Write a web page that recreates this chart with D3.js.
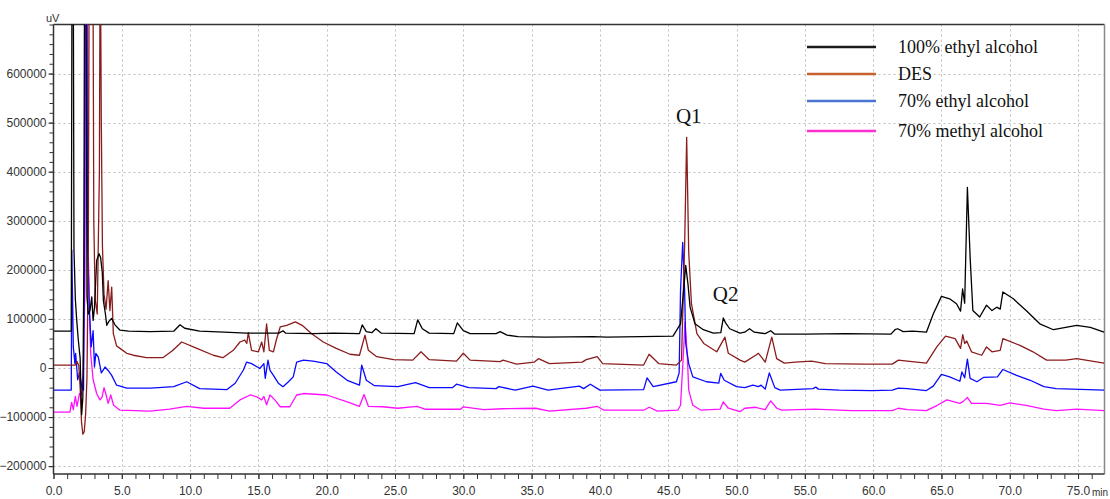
<!DOCTYPE html>
<html><head><meta charset="utf-8">
<script src="https://cdn.jsdelivr.net/npm/d3@7"></script>
<style>
html,body{margin:0;padding:0;background:#fff;}
svg{display:block;}
.tick text{font-family:"Liberation Sans Narrow","Arial Narrow","Liberation Sans",sans-serif;}
</style></head>
<body>
<svg id="chart" width="1110" height="499"></svg>
<script>
// ---------------- DATA ----------------
const seriesNames = ["100% ethyl alcohol", "DES", "70% ethyl alcohol", "70% methyl alcohol"];
const xTickLabels = [0,5,10,15,20,25,30,35,40,45,50,55,60,65,70,75];
const yTickLabels = [-200000,-100000,0,100000,200000,300000,400000,500000,600000];
const peakLabels = ["Q1","Q2"];
const peakTimes = [46.5, 49.2];

// [time (min), signal (uV)]
const ethanol100 = [[0,75000],[1.3,75000],[1.36,900000],[1.44,900000],[1.5,240000],[1.6,140000],[1.7,97000],[1.82,56000],[1.95,20000],[2.06,-95000],[2.15,-60000],[2.22,200000],[2.28,900000],[2.38,900000],[2.45,145000],[2.55,110000],[2.67,117000],[2.8,145000],[2.9,97000],[3.0,123000],[3.16,219000],[3.33,233000],[3.45,225000],[3.57,195000],[3.65,138000],[3.8,110000],[3.9,87000],[4.05,95000],[4.26,101000],[4.5,88000],[4.87,77000],[5.5,75000],[7.07,74000],[8.8,75000],[9.26,88000],[9.6,81000],[10.7,75000],[12.5,73000],[14.1,71000],[16.5,71000],[16.8,76000],[17.0,71000],[19.0,70000],[20.5,71000],[22.4,70000],[22.6,88000],[22.9,74000],[23.3,72000],[23.6,80000],[24.0,71000],[26.4,70000],[26.66,98000],[27.0,80000],[27.5,71000],[29.3,70000],[29.56,92000],[30.0,76000],[30.5,70000],[32.4,70000],[32.7,74000],[33.2,67000],[34.0,64000],[36,63000],[39.5,64000],[40.5,63000],[43,64000],[45.35,65000],[45.9,90000],[46.1,150000],[46.28,209000],[46.45,170000],[46.6,124000],[46.96,90000],[47.57,78000],[48.3,71000],[48.85,72000],[49.03,102000],[49.2,92000],[49.5,80000],[50.25,71000],[50.6,73000],[50.95,80000],[51.3,73000],[52.1,70000],[52.5,76000],[52.8,69000],[55,69000],[58,70000],[61.3,69000],[61.6,78000],[61.8,80000],[62.2,74000],[62.9,75000],[63.9,73000],[64.4,110000],[65.0,146000],[65.6,141000],[66.1,131000],[66.4,116000],[66.55,161000],[66.7,132000],[66.9,368000],[67.1,226000],[67.3,117000],[67.8,104000],[68.3,128000],[68.7,117000],[69.05,124000],[69.3,120000],[69.5,155000],[70.26,141000],[71.2,117000],[72.2,90000],[73.2,78000],[74.9,87000],[75.9,83000],[76.9,73000]];

const des = [[0,6000],[1.6,6000],[1.72,13000],[1.85,5000],[1.95,-40000],[2.05,-110000],[2.15,-135000],[2.25,-130000],[2.35,-95000],[2.45,-20000],[2.55,250000],[2.62,900000],[2.88,900000],[2.95,300000],[3.05,140000],[3.2,110000],[3.36,400000],[3.42,900000],[3.5,500000],[3.58,250000],[3.7,150000],[3.85,120000],[4.0,178000],[4.13,117000],[4.26,165000],[4.38,70000],[4.62,45000],[4.87,40000],[5.36,30000],[5.84,26000],[6.8,21000],[8.0,21000],[8.7,35000],[9.38,53000],[10.5,40000],[11.7,26000],[12.4,21000],[13.16,36000],[13.65,53000],[14.0,57000],[14.15,50000],[14.26,72000],[14.5,36000],[15.0,33000],[15.24,53000],[15.4,33000],[15.6,90000],[15.8,36000],[16.1,33000],[16.3,56000],[16.6,84000],[17.07,87000],[17.7,94000],[18.2,87000],[18.9,70000],[19.75,53000],[20.7,40000],[21.7,28000],[22.4,26000],[22.8,67000],[23.05,36000],[23.66,23000],[24.9,17000],[26.3,16000],[26.9,33000],[27.5,17000],[29.5,14000],[30.0,30000],[30.5,16000],[32.7,13000],[32.9,16000],[33.9,8000],[35.2,12000],[35.5,19000],[36.3,9000],[38.7,12000],[39.0,17000],[39.8,23000],[40.2,9000],[43.2,6000],[43.6,28000],[44.3,9000],[45.6,6000],[45.97,16000],[46.2,250000],[46.35,470000],[46.5,236000],[46.7,131000],[47.1,70000],[47.6,50000],[48.55,33000],[49.15,63000],[49.4,30000],[50.26,16000],[50.6,12000],[51.4,26000],[51.6,30000],[51.8,23000],[52.1,12000],[52.58,63000],[52.94,19000],[53.5,10000],[54.3,12000],[55.5,14000],[56.5,9000],[59.3,8000],[61.4,8000],[61.85,16000],[62.5,14000],[63.9,10000],[64.66,43000],[65.3,65000],[66.0,60000],[66.4,40000],[66.56,68000],[66.7,50000],[66.85,55000],[67.2,33000],[67.95,26000],[68.3,43000],[68.7,33000],[69.3,36000],[69.5,60000],[70.75,46000],[71.7,33000],[72.7,16000],[74.1,16000],[74.9,19000],[76.9,10000]];

const ethanol70 = [[0,-45000],[1.3,-45000],[1.34,240000],[1.45,43000],[1.57,9000],[1.62,30000],[1.77,-24000],[1.9,-10000],[2.07,-38000],[2.2,-45000],[2.27,300000],[2.32,900000],[2.42,900000],[2.5,250000],[2.63,117000],[2.76,43000],[2.9,76000],[3.0,2000],[3.1,30000],[3.28,22000],[3.5,-10000],[3.65,-4000],[3.77,2000],[4.0,-5000],[4.13,-10000],[4.26,-15000],[4.62,-35000],[5.36,-41000],[7.1,-41000],[8.8,-38000],[9.75,-28000],[10.7,-42000],[12.7,-44000],[13.3,-31000],[13.9,-4000],[14.14,12000],[14.5,9000],[15.1,-1000],[15.4,9000],[15.5,-21000],[15.7,16000],[15.85,-5000],[16.1,-15000],[16.46,-31000],[16.8,-38000],[17.2,-28000],[17.55,-18000],[17.8,12000],[18.3,16000],[19.0,14000],[20.0,9000],[20.7,-8000],[21.5,-25000],[22.4,-35000],[22.56,6000],[22.9,-25000],[23.5,-36000],[25.2,-38000],[26.5,-30000],[27.5,-40000],[29.2,-40000],[29.5,-33000],[30.4,-40000],[32.4,-42000],[32.6,-38000],[33.8,-45000],[35.1,-37000],[36.2,-45000],[38.5,-37000],[38.8,-42000],[39.3,-33000],[40.0,-45000],[43.2,-44000],[43.45,-20000],[43.9,-38000],[45.6,-28000],[45.8,-10000],[45.9,158000],[46.06,256000],[46.2,158000],[46.28,50000],[46.5,9000],[46.8,-18000],[47.8,-28000],[48.7,-31000],[48.84,-11000],[49.1,-25000],[50.0,-38000],[50.6,-40000],[51.2,-35000],[51.6,-38000],[51.8,-35000],[52.1,-43000],[52.4,-10000],[52.8,-40000],[53.2,-45000],[55.6,-42000],[55.8,-39000],[56,-43000],[57.5,-45000],[59.9,-46000],[61.4,-45000],[61.85,-41000],[62.5,-42000],[63.9,-46000],[64.4,-37000],[65.0,-13000],[65.6,-18000],[66.35,-27000],[66.5,-8000],[66.7,-20000],[66.9,18000],[67.1,-21000],[67.6,-28000],[68.1,-19000],[69.1,-18000],[69.5,-3000],[70.5,-15000],[71.5,-25000],[72.5,-38000],[73.4,-42000],[76.9,-45000]];

const methanol70 = [[0,-90000],[1.2,-90000],[1.33,-70000],[1.45,-85000],[1.6,-58000],[1.72,-78000],[1.9,-52000],[2.05,-55000],[2.18,-11000],[2.3,165000],[2.36,900000],[2.46,900000],[2.55,233000],[2.62,131000],[2.72,30000],[2.9,-24000],[3.16,-52000],[3.4,-65000],[3.55,-60000],[3.7,-40000],[3.85,-55000],[4.0,-72000],[4.19,-55000],[4.4,-76000],[4.87,-86000],[7.07,-88000],[8.5,-84000],[9.75,-78000],[11,-82000],[12.9,-82000],[13.65,-65000],[14.4,-55000],[14.9,-59000],[15.24,-65000],[15.4,-58000],[15.6,-75000],[15.85,-55000],[16.2,-65000],[16.6,-79000],[17.3,-79000],[17.8,-55000],[18.3,-52000],[20.0,-55000],[21.5,-69000],[22.4,-78000],[22.73,-54000],[23.05,-78000],[24.1,-79000],[25.2,-82000],[26.6,-78000],[27.2,-84000],[29.8,-84000],[30.0,-79000],[31.5,-85000],[32.9,-83000],[35.3,-82000],[36.3,-88000],[39.0,-82000],[39.8,-78000],[40.3,-86000],[43.2,-86000],[43.6,-80000],[44.2,-88000],[45.7,-86000],[45.9,-76000],[46.1,23000],[46.23,94000],[46.4,23000],[46.5,-45000],[46.8,-76000],[47.4,-86000],[48.8,-84000],[49.03,-69000],[49.4,-82000],[50.25,-89000],[50.6,-82000],[51.4,-80000],[52.1,-85000],[52.5,-67000],[52.95,-82000],[53.3,-86000],[55.7,-84000],[58.4,-87000],[61.4,-87000],[61.85,-82000],[62.5,-85000],[63.9,-87000],[64.7,-76000],[65.4,-65000],[66.35,-72000],[66.6,-68000],[66.9,-60000],[67.2,-72000],[68.3,-72000],[69.3,-76000],[70.0,-71000],[71.2,-76000],[72.5,-84000],[73.4,-87000],[74.9,-84000],[76.9,-87000]];

const traceColors = ["#000000", "#8b1c1c", "#0a0aff", "#ff10ff"];
const legendColors = ["#1a1a1a", "#c4612c", "#4a74d0", "#ff30d0"];

// ---------------- LAYOUT ----------------
const L = 53.5, R = 1104.5, T = 24.5, B = 474;
const svg = d3.select("#chart");
const x = d3.scaleLinear().domain([0, 76.9]).range([L, 1104]);
const y = d3.scaleLinear().domain([-216000, 700000]).range([B, T]);

svg.append("defs").append("clipPath").attr("id","clip")
  .append("rect").attr("x",L).attr("y",T).attr("width",R-L).attr("height",B-T);

// grid
const grid = svg.append("g").attr("stroke","#bdbdbd").attr("stroke-width",1).attr("stroke-dasharray","2,3");
grid.selectAll("line.h").data(yTickLabels).join("line")
  .attr("x1",L).attr("x2",R).attr("y1",d=>Math.round(y(d))+0.5).attr("y2",d=>Math.round(y(d))+0.5);
grid.selectAll("line.v").data(xTickLabels.filter(d=>d>0)).join("line")
  .attr("y1",T).attr("y2",B).attr("x1",d=>Math.round(x(d))+0.5).attr("x2",d=>Math.round(x(d))+0.5);

// frame (top & right)
svg.append("line").attr("x1",L).attr("x2",R).attr("y1",T).attr("y2",T).attr("stroke","#333").attr("stroke-width",1.5);
svg.append("line").attr("x1",R).attr("x2",R).attr("y1",T).attr("y2",B).attr("stroke","#888").attr("stroke-width",1.5);

// traces
const line = d3.line().x(d=>x(d[0])).y(d=>y(d[1]));
const allSeries = [ethanol100, des, ethanol70, methanol70];
const tg = svg.append("g").attr("clip-path","url(#clip)");
[3,2,1,0].forEach(i=>{
  tg.append("path").datum(allSeries[i]).attr("d",line)
    .attr("fill","none").attr("stroke",traceColors[i]).attr("stroke-width",1.3)
    .attr("stroke-linejoin","round");
});

// axes
const yAxis = d3.axisLeft(y).tickValues(yTickLabels).tickFormat(d3.format("d")).tickSize(5).tickPadding(2);
const yMinor = d3.axisLeft(y).tickValues(d3.range(-200000, 700001, 20000)).tickFormat("").tickSize(4);
const gyMinor = svg.append("g").attr("transform",`translate(${L},0)`).call(yMinor);
const gy = svg.append("g").attr("transform",`translate(${L},0)`).call(yAxis);
const xAxis = d3.axisBottom(x).tickValues(xTickLabels).tickFormat(d3.format(".1f")).tickSize(5).tickPadding(7);
const xMinor = d3.axisBottom(x).tickValues(d3.range(0, 77, 1)).tickFormat("").tickSize(5);
const gxMinor = svg.append("g").attr("transform",`translate(0,${B})`).call(xMinor);
const gx = svg.append("g").attr("transform",`translate(0,${B})`).call(xAxis);
[gy,gx,gyMinor,gxMinor].forEach(g=>{
  g.select(".domain").attr("stroke","#333").attr("stroke-width",1.5);
  g.selectAll(".tick line").attr("stroke","#333");
  g.selectAll(".tick text").attr("font-size",12).attr("fill","#333");
});
gyMinor.select(".domain").remove(); gxMinor.select(".domain").remove();
gy.select(".domain").attr("d",`M0,${T}V${B}`);
gx.select(".domain").attr("d",`M${L},0H${R}`);

svg.append("text").attr("x",46).attr("y",22).text("uV")
  .attr("font-family","'Liberation Sans Narrow','Liberation Sans',sans-serif").attr("font-size",11).attr("fill","#333");
svg.append("text").attr("x",x(75)+14).attr("y",B+22).text("min")
  .attr("font-family","'Liberation Sans Narrow','Liberation Sans',sans-serif").attr("font-size",10).attr("fill","#333");

// legend
const legY = [47, 74, 101, 131];
const lg = svg.append("g");
seriesNames.forEach((n,i)=>{
  lg.append("line").attr("x1",807).attr("x2",876).attr("y1",legY[i]).attr("y2",legY[i])
    .attr("stroke",legendColors[i]).attr("stroke-width",2.5);
  lg.append("text").attr("x",898).attr("y",legY[i]+6).text(n)
    .attr("font-family","'Liberation Serif','Times New Roman',serif").attr("font-size",18).attr("fill","#111");
});

// peak labels
const pkY = [123, 301];
peakLabels.forEach((p,i)=>{
  svg.append("text").attr("x",x(peakTimes[i])).attr("y",pkY[i]).attr("text-anchor","middle").text(p)
    .attr("font-family","'Liberation Serif','Times New Roman',serif").attr("font-size",21).attr("fill","#111");
});
</script>
</body></html>
